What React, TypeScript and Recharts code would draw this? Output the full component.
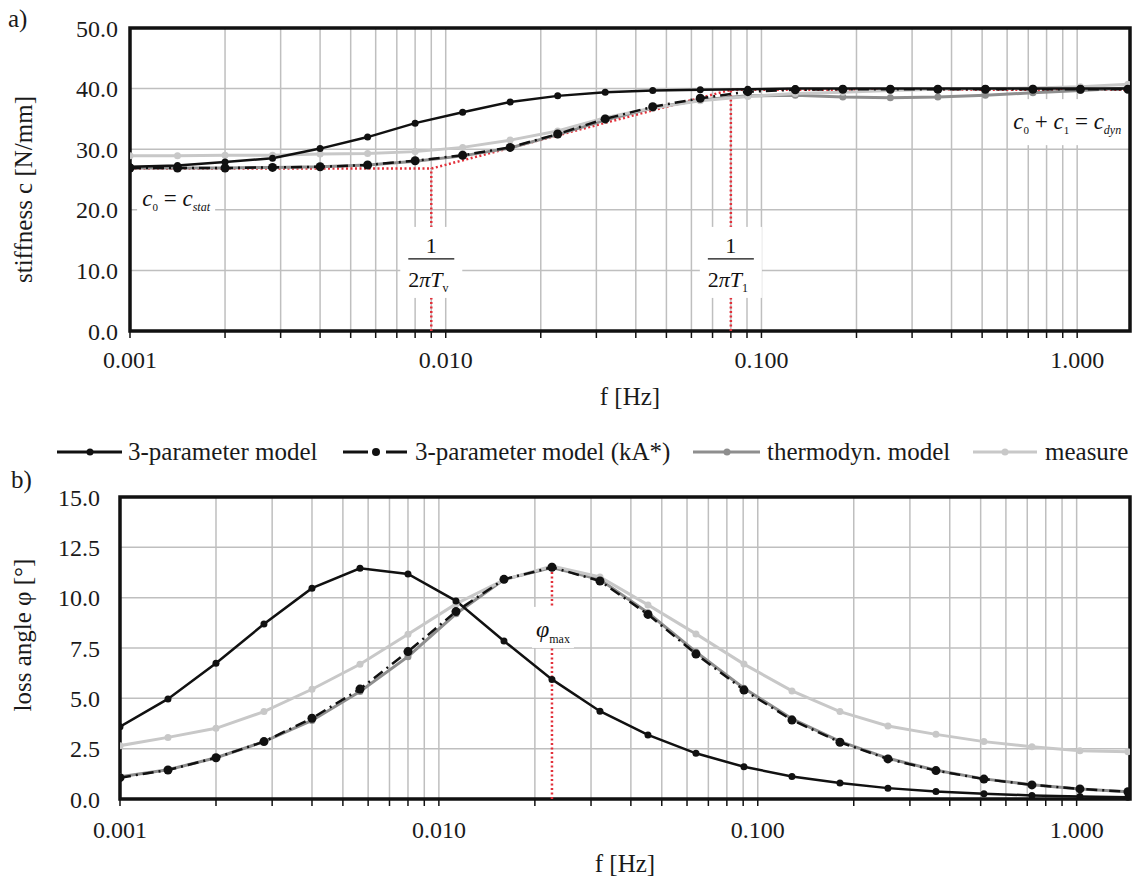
import React from 'react';
import {
  LineChart,
  Line,
  XAxis,
  YAxis,
  CartesianGrid,
  ReferenceLine,
  ReferenceArea,
  ReferenceDot,
  Label,
} from 'recharts';

const FONT = "'Liberation Serif', 'Times New Roman', Times, serif";

// frequencies [Hz]
const frequencies = [
  0.001, 0.001414, 0.002, 0.002828, 0.004, 0.005657, 0.008, 0.011314, 0.016, 0.022627, 0.032,
  0.045255, 0.064, 0.09051, 0.128, 0.181019, 0.256, 0.362039, 0.512, 0.724077, 1.024, 1.448155,
];

// a) stiffness c [N/mm]
const stiff3Param = [
  27.1, 27.3, 27.9, 28.5, 30.1, 32.0, 34.3, 36.1, 37.8, 38.8, 39.4, 39.7, 39.8, 39.9, 40.0, 40.0,
  40.0, 40.0, 40.0, 40.0, 40.0, 40.0,
];
const stiffKA = [
  26.9, 26.9, 26.9, 27.0, 27.1, 27.4, 28.1, 29.0, 30.3, 32.5, 35.0, 37.0, 38.4, 39.5, 39.8, 39.9,
  39.9, 39.9, 39.9, 39.9, 39.9, 39.9,
];
const stiffThermo = [
  26.9, 26.9, 26.9, 27.0, 27.1, 27.4, 28.0, 28.9, 30.2, 32.4, 34.8, 36.8, 38.1, 38.8, 38.9, 38.6,
  38.5, 38.6, 38.9, 39.3, 39.7, 40.1,
];
const stiffMeasure = [
  28.9, 28.9, 29.0, 29.0, 29.2, 29.3, 29.6, 30.3, 31.5, 33.0, 35.2, 36.8, 38.0, 38.7, 39.2, 39.4,
  39.7, 39.9, 40.0, 40.1, 40.3, 40.7,
];

// b) loss angle phi [deg]
const loss3Param = [
  3.59, 4.97, 6.74, 8.69, 10.47, 11.46, 11.18, 9.84, 7.85, 5.94, 4.36, 3.18, 2.27, 1.6, 1.12, 0.79,
  0.54, 0.37, 0.26, 0.18, 0.13, 0.09,
];
const lossKA = [
  1.06, 1.44, 2.05, 2.85, 4.01, 5.46, 7.32, 9.31, 10.91, 11.51, 10.83, 9.17, 7.2, 5.41, 3.92, 2.82,
  1.99, 1.41, 0.99, 0.7, 0.5, 0.36,
];
const lossThermo = [
  1.1, 1.45, 2.05, 2.85, 3.9, 5.34, 7.07, 9.2, 10.9, 11.5, 10.9, 9.25, 7.3, 5.5, 3.98, 2.86, 2.02,
  1.43, 1.0, 0.71, 0.5, 0.36,
];
const lossMeasure = [
  2.65, 3.06, 3.51, 4.34, 5.45, 6.69, 8.18, 9.69, 10.88, 11.57, 11.03, 9.64, 8.2, 6.7, 5.37, 4.34,
  3.63, 3.21, 2.85, 2.6, 2.4, 2.35,
];

// construction lines
const asymptoteF = [0.001, 0.009, 0.08, 1.47];
const asymptoteC = [26.8, 26.8, 39.8, 39.8];
const fTv = 0.009;
const fT1 = 0.08;
const cStat = 26.8;
const cDyn = 39.8;
const fPhiMax = 0.022627;
const phiMax = 11.5;

// axes
const xDomain = [0.001, 1.47];
const xTicks = [
  0.001, 0.002, 0.003, 0.004, 0.005, 0.006, 0.007, 0.008, 0.009, 0.01, 0.02, 0.03, 0.04, 0.05, 0.06,
  0.07, 0.08, 0.09, 0.1, 0.2, 0.3, 0.4, 0.5, 0.6, 0.7, 0.8, 0.9, 1,
];
const xMajorLabels: Record<string, string> = {
  '0.001': '0.001',
  '0.01': '0.010',
  '0.1': '0.100',
  '1': '1.000',
};
const stiffTicks = [0, 10, 20, 30, 40, 50];
const lossTicks = [0, 2.5, 5, 7.5, 10, 12.5, 15];

const legendNames = ['3-parameter model', '3-parameter model (kA*)', 'thermodyn. model', 'measure'];

const C_BLACK = '#111111';
const C_THERMO = '#8e8e8e';
const C_MEASURE = '#c8c8c8';
const C_RED = '#e2303a';
const C_GRID = '#bfbfbf';

const stiffData = frequencies.map((f, i) => ({
  f,
  p3: stiff3Param[i],
  ka: stiffKA[i],
  th: stiffThermo[i],
  me: stiffMeasure[i],
}));
const lossData = frequencies.map((f, i) => ({
  f,
  p3: loss3Param[i],
  ka: lossKA[i],
  th: lossThermo[i],
  me: lossMeasure[i],
}));
const asymptoteData = asymptoteF.map((f, i) => ({ f, c: asymptoteC[i] }));

const fmtX = (v: number) => xMajorLabels[String(v)] ?? '';

const tickStyle = { fontSize: 24, fill: '#1a1a1a', fontFamily: FONT };

const YTitle = (props: any) => {
  const vb = props.viewBox || { x: 0, y: 0, width: 0, height: 0 };
  const cx = props.cxPos;
  const cy = vb.y + vb.height / 2 + props.shift;
  return (
    <text
      x={cx}
      y={cy}
      transform={`rotate(-90, ${cx}, ${cy})`}
      textAnchor="middle"
      dominantBaseline="central"
      fontSize={25}
      fontFamily={FONT}
      fill="#1a1a1a"
    >
      {props.text}
    </text>
  );
};

const XTitle = (props: any) => {
  const vb = props.viewBox || { x: 0, y: 0, width: 0, height: 0 };
  return (
    <text
      x={vb.x + vb.width / 2}
      y={vb.y + vb.height - props.off}
      textAnchor="middle"
      fontSize={25}
      fontFamily={FONT}
      fill="#1a1a1a"
    >
      f [Hz]
    </text>
  );
};

const FracLabel = (props: any) => {
  const { cx, cy, sub } = props;
  if (cx == null || cy == null) return null;
  return (
    <g>
      <rect x={cx - 31} y={cy - 35} width={62} height={71} fill="#ffffff" />
      <text x={cx} y={cy - 9} textAnchor="middle" fontSize={22} fontFamily={FONT} fill="#111">
        1
      </text>
      <line x1={cx - 23} x2={cx + 23} y1={cy - 3} y2={cy - 3} stroke="#111" strokeWidth={1.3} />
      <text x={cx - 3} y={cy + 25} textAnchor="middle" fontSize={22} fontFamily={FONT} fill="#111">
        2<tspan fontStyle="italic">πT</tspan>
        <tspan fontSize={12} dy={5}>
          {sub}
        </tspan>
      </text>
    </g>
  );
};

const CStatLabel = (props: any) => {
  const { cx, cy } = props;
  if (cx == null || cy == null) return null;
  return (
    <g>
      <rect x={cx - 39} y={cy - 16} width={78} height={32} fill="#ffffff" />
      <text x={cx} y={cy + 6} textAnchor="middle" fontSize={23} fontFamily={FONT} fill="#111">
        <tspan fontStyle="italic">c</tspan>
        <tspan fontSize={11} dy={5}>0</tspan>
        <tspan dy={-5}> = </tspan>
        <tspan fontStyle="italic">c</tspan>
        <tspan fontSize={12} fontStyle="italic" dy={5}>stat</tspan>
      </text>
    </g>
  );
};

const CDynLabel = (props: any) => {
  const { cx, cy } = props;
  if (cx == null || cy == null) return null;
  return (
    <g>
      <rect x={cx - 57} y={cy - 24} width={114} height={46} fill="#ffffff" />
      <text x={cx} y={cy + 6} textAnchor="middle" fontSize={23} fontFamily={FONT} fill="#111">
        <tspan fontStyle="italic">c</tspan>
        <tspan fontSize={11} dy={5}>0</tspan>
        <tspan dy={-5}> + </tspan>
        <tspan fontStyle="italic">c</tspan>
        <tspan fontSize={11} dy={5}>1</tspan>
        <tspan dy={-5}> = </tspan>
        <tspan fontStyle="italic">c</tspan>
        <tspan fontSize={12} fontStyle="italic" dy={5}>dyn</tspan>
      </text>
    </g>
  );
};

const PhiLabel = (props: any) => {
  const { cx, cy } = props;
  if (cx == null || cy == null) return null;
  return (
    <g>
      <rect x={cx - 20} y={cy - 26} width={42} height={41} fill="#ffffff" />
      <text x={cx + 1} y={cy + 4} textAnchor="middle" fontSize={24} fontFamily={FONT} fill="#111">
        <tspan fontStyle="italic">φ</tspan>
        <tspan fontSize={12} dy={6}>max</tspan>
      </text>
    </g>
  );
};

const seriesLines = (kaDot: number) => [
  <Line
    key="th"
    dataKey="th"
    stroke={C_THERMO}
    strokeWidth={3}
    dot={{ r: 3.5, fill: C_THERMO, stroke: C_THERMO, strokeWidth: 0 }}
    isAnimationActive={false}
  />,
  <Line
    key="me"
    dataKey="me"
    stroke={C_MEASURE}
    strokeWidth={3}
    dot={{ r: 3.5, fill: C_MEASURE, stroke: C_MEASURE, strokeWidth: 0 }}
    isAnimationActive={false}
  />,
  <Line
    key="ka"
    dataKey="ka"
    stroke={C_BLACK}
    strokeWidth={2.5}
    strokeDasharray="11 5 2 5"
    dot={{ r: kaDot, fill: C_BLACK, stroke: C_BLACK, strokeWidth: 0 }}
    isAnimationActive={false}
  />,
  <Line
    key="p3"
    dataKey="p3"
    stroke={C_BLACK}
    strokeWidth={2.5}
    dot={{ r: 3.5, fill: C_BLACK, stroke: C_BLACK, strokeWidth: 0 }}
    isAnimationActive={false}
  />,
];

const StiffnessChart = () => (
  <LineChart
    width={1132}
    height={420}
    data={stiffData}
    margin={{ top: 28, right: 2, bottom: 0, left: 0 }}
  >
    <CartesianGrid stroke={C_GRID} strokeWidth={1.5} />
    <XAxis
      dataKey="f"
      type="number"
      scale="log"
      domain={xDomain}
      allowDataOverflow
      ticks={xTicks}
      interval={0}
      tickFormatter={fmtX}
      tick={tickStyle}
      tickSize={7}
      tickMargin={13}
      tickLine={{ stroke: '#111', strokeWidth: 1.5 }}
      axisLine={false}
      height={89}
    >
      <Label content={(p: any) => <XTitle {...p} off={15} />} />
    </XAxis>
    <YAxis
      type="number"
      domain={[0, 50]}
      ticks={stiffTicks}
      tickFormatter={(v: number) => v.toFixed(1)}
      tick={tickStyle}
      tickSize={0}
      tickMargin={12}
      tickLine={false}
      axisLine={false}
      width={130}
    >
      <Label
        content={(p: any) => <YTitle {...p} cxPos={23} shift={10} text="stiffness c [N/mm]" />}
      />
    </YAxis>
    <Line
      data={asymptoteData}
      dataKey="c"
      stroke={C_RED}
      strokeWidth={2.5}
      strokeDasharray="2 2.5"
      dot={false}
      isAnimationActive={false}
    />
    <ReferenceLine
      segment={[
        { x: fTv, y: 0 },
        { x: fTv, y: cStat },
      ]}
      stroke={C_RED}
      strokeWidth={2.5}
      strokeDasharray="2 2.5"
    />
    <ReferenceLine
      segment={[
        { x: fT1, y: 0 },
        { x: fT1, y: cDyn },
      ]}
      stroke={C_RED}
      strokeWidth={2.5}
      strokeDasharray="2 2.5"
    />
    <ReferenceDot x={fTv} y={11.4} shape={(p: any) => <FracLabel {...p} sub="v" />} />
    <ReferenceDot x={fT1} y={11.4} shape={(p: any) => <FracLabel {...p} sub="1" />} />
    <ReferenceDot x={0.0014} y={21.6} shape={(p: any) => <CStatLabel {...p} />} />
    <ReferenceDot x={0.93} y={34.3} shape={(p: any) => <CDynLabel {...p} />} />
    {seriesLines(4.5)}
    <ReferenceArea
      x1={xDomain[0]}
      x2={xDomain[1]}
      y1={0}
      y2={50}
      stroke="#111"
      strokeWidth={3.5}
      fill="none"
      fillOpacity={0}
      ifOverflow="visible"
    />
  </LineChart>
);

const LossChart = () => (
  <LineChart
    width={1132}
    height={410}
    data={lossData}
    margin={{ top: 27, right: 2, bottom: 0, left: 0 }}
  >
    <CartesianGrid stroke={C_GRID} strokeWidth={1.5} />
    <XAxis
      dataKey="f"
      type="number"
      scale="log"
      domain={xDomain}
      allowDataOverflow
      ticks={xTicks}
      interval={0}
      tickFormatter={fmtX}
      tick={tickStyle}
      tickSize={7}
      tickMargin={15}
      tickLine={{ stroke: '#111', strokeWidth: 1.5 }}
      axisLine={false}
      height={81}
    >
      <Label content={(p: any) => <XTitle {...p} off={8} />} />
    </XAxis>
    <YAxis
      type="number"
      domain={[0, 15]}
      ticks={lossTicks}
      tickFormatter={(v: number) => v.toFixed(1)}
      tick={tickStyle}
      tickSize={0}
      tickMargin={20}
      tickLine={false}
      axisLine={false}
      width={120}
    >
      <Label
        content={(p: any) => <YTitle {...p} cxPos={22} shift={-13} text="loss angle φ [°]" />}
      />
    </YAxis>
    <ReferenceLine
      segment={[
        { x: fPhiMax, y: 0 },
        { x: fPhiMax, y: phiMax },
      ]}
      stroke={C_RED}
      strokeWidth={2.5}
      strokeDasharray="2 2.5"
    />
    <ReferenceDot x={fPhiMax} y={8.25} shape={(p: any) => <PhiLabel {...p} />} />
    {seriesLines(4.5)}
    <ReferenceArea
      x1={xDomain[0]}
      x2={xDomain[1]}
      y1={0}
      y2={15}
      stroke="#111"
      strokeWidth={3.5}
      fill="none"
      fillOpacity={0}
      ifOverflow="visible"
    />
  </LineChart>
);

const Overlay = () => (
  <svg
    width={1132}
    height={880}
    style={{ position: 'absolute', left: 0, top: 0, pointerEvents: 'none' }}
  >
    <g fontFamily={FONT} fontSize={25} fill="#1a1a1a">
      <text x={8} y={27}>a)</text>
      <text x={11} y={488}>b)</text>
    </g>
    {/* legend */}
    <g>
      <line x1={57} x2={122} y1={452} y2={452} stroke={C_BLACK} strokeWidth={3} />
      <circle cx={90} cy={452} r={3.5} fill={C_BLACK} />
      <line x1={343} x2={368} y1={452} y2={452} stroke={C_BLACK} strokeWidth={3} />
      <circle cx={376} cy={452} r={4} fill={C_BLACK} />
      <line x1={386} x2={407} y1={452} y2={452} stroke={C_BLACK} strokeWidth={3} />
      <line x1={693} x2={760} y1={452} y2={452} stroke={C_THERMO} strokeWidth={3} />
      <circle cx={727} cy={452} r={3.5} fill={C_THERMO} />
      <line x1={973} x2={1037} y1={452} y2={452} stroke={C_MEASURE} strokeWidth={3} />
      <circle cx={1005} cy={452} r={3.5} fill={C_MEASURE} />
    </g>
    <g fontFamily={FONT} fontSize={25} fill="#1a1a1a">
      <text x={128} y={460}>{legendNames[0]}</text>
      <text x={415} y={460}>{legendNames[1]}</text>
      <text x={767} y={460}>{legendNames[2]}</text>
      <text x={1045} y={460}>{legendNames[3]}</text>
    </g>
  </svg>
);

export default function App() {
  return (
    <div
      style={{
        position: 'absolute',
        left: 0,
        top: 0,
        width: 1132,
        height: 880,
        background: '#ffffff',
        fontFamily: FONT,
      }}
    >
      <div style={{ position: 'absolute', left: 0, top: 0 }}>
        <StiffnessChart />
      </div>
      <div style={{ position: 'absolute', left: 0, top: 470 }}>
        <LossChart />
      </div>
      <Overlay />
    </div>
  );
}
